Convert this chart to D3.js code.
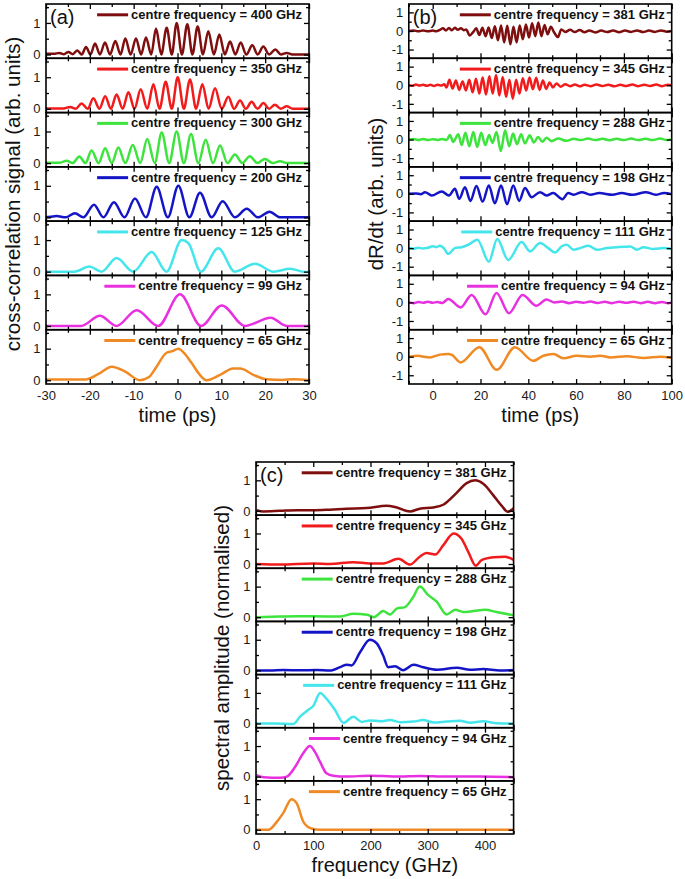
<!DOCTYPE html>
<html><head><meta charset="utf-8">
<script src="https://cdn.jsdelivr.net/npm/d3@7"></script>
<style>body{margin:0;background:#fff} svg{display:block}</style>
</head><body>
<svg id="c" width="685" height="879"></svg>
<script>
const FONT = "'Liberation Sans', Arial, Helvetica, sans-serif";
const colors = ["#7f0f0f","#f21b1b","#3de43d","#1515c8","#44e6ec","#e830e0","#f08a24"];
const aLegend = ["400","350","300","200","125","99","65"];
const bLegend = ["381","345","288","198","111","94","65"];
const cLegend = ["381","345","288","198","111","94","65"];

// ---- panel (a): cross-correlation vs time (ps)
const a400 = [[-30,0.02],[-28.2,0.02],[-26.96,0.05],[-25.9,0.01],[-24.9,0.08],[-23.9,0.01],[-22.85,0.13],[-21.85,0.0],[-20.87,0.24],[-19.85,0.0],[-18.82,0.35],[-17.7,0.0],[-16.54,0.38],[-15.4,0.0],[-14.18,0.43],[-13.0,0.0],[-11.9,0.51],[-10.7,0.0],[-9.47,0.51],[-8.3,0.0],[-7.19,0.54],[-6.0,0.0],[-4.9,0.82],[-3.7,0.0],[-2.47,0.85],[-1.3,0.0],[-0.19,1.0],[1.0,0.0],[2.24,0.96],[3.4,0.0],[4.6,0.89],[5.8,0.0],[7.03,0.74],[8.3,0.0],[9.54,0.63],[10.8,0.0],[11.98,0.41],[13.2,0.0],[14.41,0.38],[15.7,0.0],[17.07,0.29],[18.3,0.0],[19.58,0.25],[20.9,0.0],[22.32,0.16],[23.6,0.0],[24.9,0.05],[26.2,0.0],[30,0.0]];
const a350 = [[-30,0.01],[-26,0.01],[-24.5,0.06],[-23.2,0.0],[-21.9,0.17],[-20.5,0.0],[-19.2,0.33],[-17.8,0.0],[-16.5,0.40],[-15.2,0.0],[-13.9,0.45],[-12.5,0.0],[-11.2,0.52],[-9.8,0.0],[-8.4,0.62],[-6.9,0.0],[-5.5,0.78],[-4.1,0.0],[-2.7,0.86],[-1.3,0.0],[0.04,1.0],[1.45,0.0],[2.85,0.93],[4.25,0.0],[5.67,0.78],[7.1,0.0],[8.56,0.65],[10.1,0.0],[11.6,0.38],[12.9,0.0],[14.26,0.26],[15.6,0.0],[16.9,0.22],[18.25,0.0],[19.6,0.18],[20.9,0.0],[22.2,0.13],[23.55,0.0],[24.9,0.08],[26.3,0.0],[30,0.0]];
const a300 = [[-30,0.01],[-27,0.01],[-25.3,0.07],[-23.9,0.0],[-22.4,0.21],[-21,0.0],[-19.6,0.40],[-18,0.0],[-16.5,0.47],[-15,0.0],[-13.5,0.49],[-11.9,0.0],[-10.2,0.57],[-8.5,0.0],[-6.9,0.76],[-5.2,0.0],[-3.6,0.97],[-1.9,0.0],[-0.19,1.0],[1.45,0.0],[3.08,0.92],[4.75,0.0],[6.43,0.74],[8.1,0.0],[9.7,0.56],[11.4,0.0],[13.1,0.27],[14.8,0.0],[16.5,0.22],[18.2,0.0],[19.96,0.13],[21.7,0.0],[23.4,0.06],[25,0.0],[30,0.0]];
const a200 = [[-30,0.01],[-29,0.02],[-27.6,0.04],[-25.5,0.0],[-23.4,0.13],[-21.5,0.0],[-19.05,0.40],[-16.9,0.0],[-14.5,0.48],[-12.1,0.0],[-9.7,0.60],[-7.2,0.0],[-4.75,0.97],[-2.2,0.0],[0.19,1.0],[2.7,0.0],[5.13,0.78],[7.8,0.0],[10.3,0.51],[13.1,0.0],[15.8,0.27],[18.4,0.0],[21.0,0.18],[23.4,0.0],[30,0.0]];
const a125 = [[-30,0.0],[-23.5,0.0],[-20.1,0.16],[-17.3,0.0],[-13.9,0.43],[-10.1,0.0],[-5.9,0.62],[-2.5,0.0],[0.95,1.0],[2.5,0.9],[5.3,0.0],[9.3,0.74],[13.1,0.0],[17.7,0.25],[21.9,0.0],[25.7,0.09],[29.1,-0.01],[30,0.0]];
const a99 = [[-30,0.0],[-22,0.0],[-17.7,0.32],[-13.9,0.0],[-9.3,0.5],[-4.4,0.0],[0.57,1.0],[5.4,0.0],[10.1,0.65],[15.4,0.0],[21.25,0.26],[24.9,0.0],[30,0.0]];
const a65 = [[-30,0.02],[-21,0.02],[-18,0.2],[-15,0.43],[-12,0.28],[-8.6,0.0],[-6.5,0.1],[-5,0.38],[-2.5,0.87],[-1.2,0.92],[0.2,1.0],[1.3,0.89],[3.2,0.55],[5.1,0.17],[6.6,0.0],[9.7,0.17],[12.7,0.37],[14.3,0.37],[17.3,0.17],[20.3,0.03],[24,0.01],[26.5,0.03],[30,0.0]];

// ---- panel (b): dR/dt vs time (ps)
const b381 = [[-10,0],[-8,0.03],[-6,-0.02],[-4,0.03],[-2,-0.02],[0,0.02],[1.5,-0.02],[3,0.06],[4.3,0.14],[5.5,0.03],[6.8,0.16],[8,0.04],[9.3,0.17],[10.5,0.06],[11.8,0.15],[13,0.04],[14,0.08],[15.5,-0.24],[17,-0.05],[18.2,0.15],[19.5,-0.22],[20.8,0.17],[22.1,-0.28],[23.4,0.18],[24.7,-0.38],[26,0.25],[27.3,-0.5],[28.6,0.3],[29.9,-0.62],[31.2,0.28],[32.5,-0.72],[33.8,0.22],[35.1,-0.62],[36.4,0.3],[37.7,-0.45],[39,0.35],[40.3,-0.35],[41.6,0.42],[42.9,-0.28],[44.2,0.46],[45.5,-0.28],[46.8,0.32],[48.1,-0.18],[49.4,0.22],[50.9,-0.1],[52.4,-0.33],[53.8,0.08],[55.5,-0.05],[57.5,0.06],[59.5,-0.06],[61.5,0.05],[63.5,-0.07],[65.5,0.03],[68,-0.08],[70.5,0.02],[73,-0.06],[75.5,0.03],[78,-0.07],[80.5,0.02],[83,-0.05],[85.5,0.03],[88,-0.06],[90.5,0.02],[93,-0.05],[95.5,0.03],[98,-0.04],[100,0.0]];
const b345 = [[-10,0.02],[-8.5,-0.03],[-7,0.04],[-5.5,-0.02],[-4,0.03],[-2.5,-0.03],[-1,0.02],[0.5,-0.04],[2,0.03],[3.5,-0.02],[4.8,0.05],[5.8,-0.12],[7,0.3],[8.3,-0.18],[9.7,0.25],[11.1,-0.25],[12.5,0.2],[13.9,-0.28],[15.3,0.3],[16.7,-0.38],[18.1,0.35],[19.5,-0.45],[20.9,0.42],[22.3,-0.5],[23.7,0.48],[25.1,-0.45],[26.5,0.55],[27.9,-0.55],[29.3,0.45],[30.7,-0.62],[32.1,0.3],[33.5,-0.72],[34.9,0.3],[36.3,-0.45],[37.7,0.38],[39.1,-0.28],[40.5,0.42],[41.9,-0.22],[43.3,0.4],[44.7,-0.25],[46.1,0.25],[47.5,-0.2],[48.9,0.15],[50.3,-0.12],[51.8,0.1],[53.5,-0.08],[55.5,0.05],[57.5,-0.05],[59.5,0.04],[61.5,-0.06],[63.5,0.03],[66,-0.05],[68.5,0.04],[71,-0.04],[73.5,0.03],[76,-0.06],[78.5,0.02],[81,-0.04],[83.5,0.04],[86,-0.05],[88.5,0.03],[91,-0.04],[93.5,0.04],[96,-0.05],[98.5,0.03],[100,0]];
const b288 = [[-10,0.0],[-8,0.03],[-6,-0.02],[-4,0.03],[-2,-0.03],[0,0.02],[2,-0.02],[4,0.03],[5.85,-0.03],[7.2,0.24],[8.6,-0.13],[10.7,0.29],[12.1,-0.3],[13.7,0.36],[15.3,-0.36],[17.0,0.4],[18.6,-0.4],[20.3,0.36],[22.0,-0.3],[23.6,0.24],[25.0,-0.18],[26.7,0.41],[28.5,-0.62],[30.3,0.5],[32.0,-0.36],[33.6,0.32],[35.3,-0.25],[37.0,0.29],[38.6,-0.21],[40.6,0.23],[42.3,-0.16],[44.1,0.14],[45.9,-0.12],[47.6,0.1],[49.7,-0.09],[52.5,0.05],[56,-0.07],[59,0.04],[62,-0.03],[65,0.05],[68,-0.03],[71,0.04],[74,-0.04],[77,0.04],[80,-0.03],[83,0.05],[86,-0.03],[89,0.04],[92,-0.03],[95,0.05],[98,-0.03],[100,0.02]];
const b198 = [[-10,0.0],[-7,0.02],[-5,-0.02],[-3.2,0.09],[-0.4,-0.09],[3.8,0.13],[6.8,-0.09],[9.3,0.27],[11.1,-0.27],[13.5,0.35],[15.8,-0.38],[18.3,0.42],[20.9,-0.42],[23.5,0.45],[26.0,-0.51],[28.6,0.45],[31.1,-0.56],[33.7,0.45],[36.2,-0.38],[38.6,0.31],[41.4,-0.18],[44.9,0.09],[47.6,-0.09],[50.4,0.04],[54.3,-0.29],[56.7,0.04],[59,-0.05],[62.4,0.09],[66,-0.05],[69.7,0.04],[75.3,-0.05],[79,0.04],[83.6,-0.05],[89.2,0.09],[93.3,-0.05],[96.8,0.05],[100,-0.02]];
const b111 = [[-10,0.0],[-8,-0.03],[-6,0.02],[-4,-0.02],[-2.6,0.0],[0.2,0.1],[1.5,0.05],[3,0.12],[4.5,0.02],[6.5,-0.31],[9.3,0.0],[12.1,0.05],[14.9,0.18],[18.7,0.45],[23.5,-0.73],[27,0.49],[31.6,-0.64],[37.2,0.33],[40.7,-0.18],[44.9,0.27],[48.4,0.0],[51.2,-0.24],[54,0.1],[56.1,0.18],[58.9,-0.09],[61.7,0.0],[65.2,0.12],[68.7,-0.09],[72.9,0.0],[77.1,0.05],[82.7,0.09],[85.4,-0.09],[88.2,0.05],[92.4,-0.05],[96.6,0.0],[100,-0.05]];
const b94 = [[-10,0.0],[-8,-0.04],[-6,0.02],[-4,-0.02],[-2,0.03],[0,-0.02],[2,0.02],[4,-0.03],[6.5,0.18],[11.7,-0.27],[16.3,0.4],[22.1,-0.64],[26.7,0.51],[31.9,-0.58],[37.6,0.4],[43.4,-0.18],[47.6,0.15],[51,0.0],[54,0.05],[57,-0.04],[60,0.03],[63,-0.02],[66,0.05],[69,-0.03],[72,0.03],[75,-0.04],[78,0.04],[81,-0.02],[84,0.04],[87,-0.04],[90,0.03],[93,-0.04],[96,0.02],[98.5,-0.05],[100,0.0]];
const b65 = [[-10,0.0],[-6,0.05],[-4,0.0],[-1.2,-0.04],[3,0.11],[6.5,0.15],[8,0.1],[11.7,-0.31],[19.5,0.51],[26.8,-0.71],[34.4,0.51],[42.1,-0.22],[46.3,0.05],[50.5,0.15],[54.7,-0.09],[60.3,0.05],[65.9,0.0],[70.1,0.05],[74.3,-0.04],[81.3,0.02],[88.3,-0.07],[95.3,0.0],[100,-0.07]];

// ---- panel (c): spectral amplitude vs frequency (GHz)
const c381 = [[1,0.02],[13,-0.02],[42,0.0],[71,0.02],[100,0.02],[129,0.04],[158,0.07],[193,0.09],[228,0.17],[246,0.11],[269,-0.02],[286,0.07],[310,0.11],[327,0.2],[350,0.58],[368,0.91],[383,1.0],[397,0.89],[415,0.5],[429,0.17],[440,-0.03],[450,0.09]];
const c345 = [[1,0.0],[42,-0.02],[100,0.02],[129,0.0],[170,0.06],[199,0.02],[222,0.02],[249,0.17],[269,-0.02],[286,0.24],[298,0.36],[313,0.31],[327,0.61],[345,1.0],[359,0.83],[371,0.39],[384,-0.06],[394,0.13],[415,0.22],[435,0.24],[450,0.13]];
const c288 = [[1,0.0],[42,0.02],[71,0.03],[100,0.03],[147,0.02],[170,0.11],[194,0.08],[206,0.0],[222,0.2],[234,0.09],[246,0.28],[260,0.33],[275,0.67],[286,1.0],[301,0.72],[316,0.5],[333,0.09],[348,0.24],[362,0.17],[380,0.2],[400,0.24],[420,0.17],[450,0.06]];
const c198 = [[1,-0.01],[24,-0.01],[48,0.01],[77,0.0],[106,0.01],[129,-0.01],[150,0.13],[158,0.18],[167,0.16],[182,0.6],[199,1.0],[211,0.88],[222,0.49],[231,0.1],[243,0.13],[257,0.0],[275,0.18],[292,0.1],[316,0.02],[351,0.08],[374,0.02],[397,0.04],[426,-0.01],[450,0.01]];
const c111 = [[1,0.0],[30,0.0],[65,-0.02],[77,0.22],[91,0.44],[100,0.57],[112,1.0],[123,0.81],[138,0.44],[153,0.02],[170,0.22],[185,0.05],[199,0.1],[217,0.07],[234,0.11],[252,0.04],[275,0.06],[292,0.11],[310,0.03],[333,0.06],[356,0.09],[374,0.02],[397,0.07],[420,0.01],[450,0.0]];
const c94 = [[1,0.05],[13,-0.02],[42,-0.04],[54,0.0],[68,0.31],[83,0.78],[94,1.0],[103,0.81],[112,0.48],[123,0.11],[135,0.03],[158,0.0],[199,0.03],[246,0.0],[286,0.02],[333,0.0],[391,0.0],[450,-0.02]];
const c65 = [[1,0.0],[22,0.0],[36,0.25],[48,0.56],[62,1.0],[71,0.87],[83,0.25],[97,0.04],[112,0.0],[450,0.0]];

// ---- ticks
const aXTicks = [-30,-20,-10,0,10,20,30], aXMinor = [-25,-15,-5,5,15,25];
const bXTicks = [0,20,40,60,80,100], bXMinor = [-10,10,30,50,70,90];
const cXTicks = [0,100,200,300,400], cXMinor = [50,150,250,350,450];
const acYTicks = [0,1], acYMinor = [0.5,1.5];
const bYTicks = [-1,0,1], bYMinor = [-0.5,0.5];

const svg = d3.select("#c");

function styleAxis(g){
  g.select(".domain").remove();
  g.selectAll("line").attr("stroke","#000").attr("stroke-width",1.3);
  g.selectAll("text").attr("font-family",FONT).attr("font-size",13).attr("fill","#1a1a1a");
}

function panel(o){
  const x = d3.scaleLinear().domain(o.xDomain).range([o.left,o.right]);
  const h = (o.bottom - o.top)/7;
  o.series.forEach((data,i)=>{
    const top = o.top + i*h, bot = top + h;
    const y = d3.scaleLinear().domain(o.yDomain).range([bot, top]);
    const g = svg.append("g");
    const clipId = o.id + "clip" + i;
    svg.append("clipPath").attr("id",clipId).append("rect")
      .attr("x",o.left).attr("y",top).attr("width",o.right-o.left).attr("height",h);
    g.append("path").datum(data)
      .attr("clip-path",`url(#${clipId})`)
      .attr("fill","none").attr("stroke",colors[i]).attr("stroke-width",2.5)
      .attr("stroke-linejoin","round")
      .attr("d", d3.line().x(d=>x(d[0])).y(d=>y(d[1])).curve(d3.curveMonotoneX));
    // axes
    g.append("g").attr("transform",`translate(${o.left},0)`)
      .call(d3.axisLeft(y).tickValues(o.yTicks).tickSize(-5).tickPadding(5.5).tickFormat(d=>String(d))).call(styleAxis);
    g.append("g").attr("transform",`translate(${o.left},0)`)
      .call(d3.axisLeft(y).tickValues(o.yMinor).tickSize(-3).tickFormat("")).call(styleAxis);
    g.append("g").attr("transform",`translate(${o.right},0)`)
      .call(d3.axisRight(y).tickValues(o.yTicks).tickSize(-5).tickFormat("")).call(styleAxis);
    g.append("g").attr("transform",`translate(${o.right},0)`)
      .call(d3.axisRight(y).tickValues(o.yMinor).tickSize(-3).tickFormat("")).call(styleAxis);
    g.append("g").attr("transform",`translate(0,${top})`)
      .call(d3.axisTop(x).tickValues(o.xTicks).tickSize(-5).tickFormat("")).call(styleAxis);
    g.append("g").attr("transform",`translate(0,${top})`)
      .call(d3.axisTop(x).tickValues(o.xMinor).tickSize(-3).tickFormat("")).call(styleAxis);
    g.append("g").attr("transform",`translate(0,${bot})`)
      .call(d3.axisBottom(x).tickValues(o.xTicks).tickSize(-5).tickPadding(6.5)
        .tickFormat(i===6 ? (d=>String(d)) : "")).call(styleAxis);
    g.append("g").attr("transform",`translate(0,${bot})`)
      .call(d3.axisBottom(x).tickValues(o.xMinor).tickSize(-3).tickFormat("")).call(styleAxis);
    // frame
    g.append("rect").attr("x",o.left).attr("y",top).attr("width",o.right-o.left).attr("height",h)
      .attr("fill","none").attr("stroke","#000").attr("stroke-width",1.6);
    // legend
    const tx = o.right - 7;
    const t = g.append("text").attr("x",tx).attr("y",top+14.8).attr("text-anchor","end")
      .attr("font-family",FONT).attr("font-weight","bold").attr("font-size",13).attr("fill","#111")
      .text(`centre frequency = ${o.labels[i]} GHz`);
    const w = t.node().getComputedTextLength();
    g.append("line").attr("x1",tx-w-34).attr("x2",tx-w-3).attr("y1",top+10.8).attr("y2",top+10.8)
      .attr("stroke",colors[i]).attr("stroke-width",3);
    if(i===0){
      svg.append("text").attr("x",o.left+4).attr("y",top+19.5).attr("font-family",FONT)
        .attr("font-size",20).attr("fill","#111").text(o.letter);
    }
  });
  // titles
  svg.append("text").attr("transform",`translate(${o.ytX},${(o.top+o.bottom)/2}) rotate(-90)`)
    .attr("text-anchor","middle").attr("font-family",FONT).attr("font-size",20.5).attr("fill","#111").text(o.yTitle);
  svg.append("text").attr("x",(o.left+o.right)/2).attr("y",o.xtY)
    .attr("text-anchor","middle").attr("font-family",FONT).attr("font-size",20).attr("fill","#111").text(o.xTitle);
}

panel({id:"a", left:46, right:309, top:4, bottom:384, xDomain:[-30,30], yDomain:[-0.12,1.6],
  series:[a400,a350,a300,a200,a125,a99,a65], labels:aLegend,
  xTicks:aXTicks, xMinor:aXMinor, yTicks:acYTicks, yMinor:acYMinor,
  yTitle:"cross-correlation signal (arb. units)", xTitle:"time (ps)", ytX:20, xtY:422, letter:"(a)"});
panel({id:"b", left:408.8, right:671.7, top:4, bottom:384, xDomain:[-10,100], yDomain:[-1.47,1.45],
  series:[b381,b345,b288,b198,b111,b94,b65], labels:bLegend,
  xTicks:bXTicks, xMinor:bXMinor, yTicks:bYTicks, yMinor:bYMinor,
  yTitle:"dR/dt (arb. units)", xTitle:"time (ps)", ytX:383, xtY:422, letter:"(b)"});
panel({id:"cc", left:256, right:513.6, top:462, bottom:834, xDomain:[0,450], yDomain:[-0.14,1.6],
  series:[c381,c345,c288,c198,c111,c94,c65], labels:cLegend,
  xTicks:cXTicks, xMinor:cXMinor, yTicks:acYTicks, yMinor:acYMinor,
  yTitle:"spectral amplitude (normalised)", xTitle:"frequency (GHz)", ytX:229, xtY:872, letter:"(c)"});
</script>
</body></html>
